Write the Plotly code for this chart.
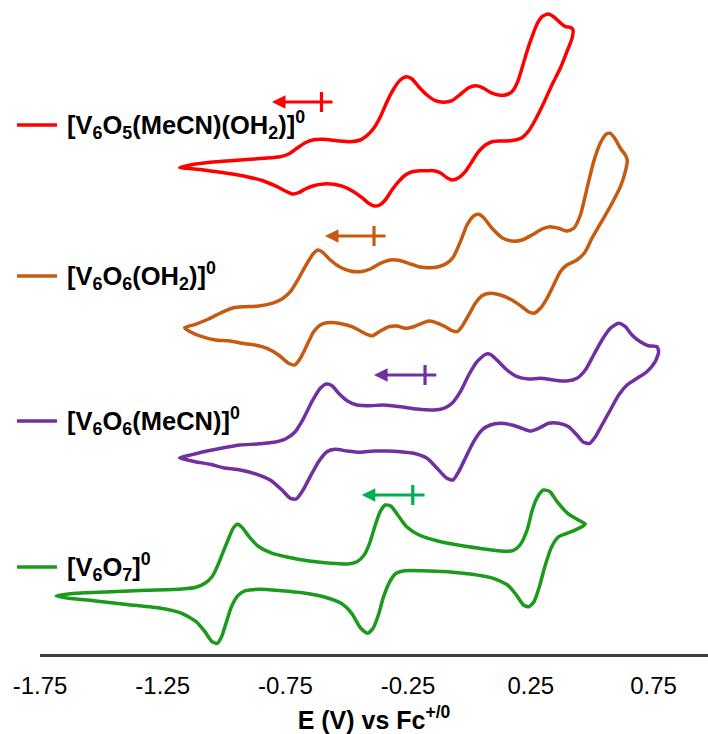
import plotly.graph_objects as go

# Potential axis ticks (V vs Fc+/0)
tick_values = [-1.75, -1.25, -0.75, -0.25, 0.25, 0.75]
tick_labels = ["-1.75", "-1.25", "-0.75", "-0.25", "0.25", "0.75"]

# Cyclic voltammograms: potential E (V) and current (a.u., stacked with offsets)
e_v6o5_mecn_oh2 = [-1.181, -1.138, -1.056, -0.947, -0.839, -0.771, -0.737, -0.703, -0.669, -0.635,
                   -0.594, -0.540, -0.486, -0.445, -0.418, -0.390, -0.363, -0.336, -0.309, -0.282,
                   -0.257, -0.234, -0.207, -0.173, -0.139, -0.105, -0.071, -0.037, -0.003, 0.024,
                   0.051, 0.085, 0.119, 0.146, 0.173, 0.194, 0.214, 0.234, 0.255, 0.275,
                   0.296, 0.320, 0.343, 0.368, 0.391, 0.411, 0.422, 0.418, 0.397, 0.370,
                   0.336, 0.302, 0.268, 0.241, 0.214, 0.187, 0.153, 0.119, 0.092, 0.065,
                   0.037, 0.010, -0.017, -0.044, -0.071, -0.092, -0.119, -0.146, -0.173, -0.200,
                   -0.234, -0.261, -0.289, -0.316, -0.343, -0.366, -0.388, -0.411, -0.438, -0.472,
                   -0.513, -0.553, -0.594, -0.635, -0.669, -0.696, -0.719, -0.744, -0.784, -0.839,
                   -0.907, -0.988, -1.083, -1.151, -1.181]
i_v6o5_mecn_oh2 = [486.3, 489, 491.7, 493.7, 495.7, 497.3, 500, 505.7, 511.3, 514.3,
                   514.7, 513.3, 512.3, 514, 518.3, 525.7, 537.3, 552.3, 565, 574,
                   577.3, 575, 567.3, 559, 553.3, 551.7, 553.3, 559.7, 566.3, 568.3,
                   566.7, 561.7, 559, 559, 562.3, 570.7, 585.7, 602.3, 617.3, 629.7,
                   637.3, 640, 637.3, 631.7, 627.3, 626.7, 624, 615.7, 602.3, 585.7,
                   569, 550.7, 534, 523, 516.3, 514, 513, 513, 512.3, 509,
                   502.3, 492.3, 482.3, 476.3, 474, 476.3, 481.3, 483.3, 483.3, 483.3,
                   482.3, 479, 472.3, 464, 454, 449, 448, 450.7, 456.3, 462.3,
                   467.3, 469.7, 470, 468.3, 465, 461.3, 460, 462.3, 467.3, 473,
                   477.3, 480.7, 484, 485.7, 486.3]

e_v6o6_oh2 = [-1.161, -1.117, -1.063, -1.009, -0.961, -0.913, -0.859, -0.805, -0.764, -0.730,
              -0.696, -0.662, -0.635, -0.617, -0.598, -0.567, -0.526, -0.486, -0.445, -0.404,
              -0.363, -0.323, -0.289, -0.248, -0.207, -0.166, -0.126, -0.092, -0.065, -0.037,
              -0.010, 0.017, 0.037, 0.058, 0.092, 0.133, 0.173, 0.214, 0.255, 0.296,
              0.329, 0.363, 0.397, 0.425, 0.452, 0.479, 0.506, 0.533, 0.556, 0.574,
              0.592, 0.615, 0.635, 0.643, 0.635, 0.615, 0.588, 0.554, 0.526, 0.499,
              0.472, 0.438, 0.397, 0.370, 0.343, 0.316, 0.289, 0.262, 0.241, 0.214,
              0.173, 0.126, 0.085, 0.051, 0.024, -0.003, -0.031, -0.051, -0.071, -0.098,
              -0.139, -0.166, -0.194, -0.228, -0.262, -0.295, -0.329, -0.363, -0.395, -0.418,
              -0.445, -0.479, -0.513, -0.547, -0.581, -0.608, -0.635, -0.662, -0.689, -0.712,
              -0.737, -0.778, -0.825, -0.873, -0.927, -0.975, -1.036, -1.090, -1.138, -1.161]
i_v6o6_oh2 = [326.3, 329.7, 335, 341.7, 346.3, 347.3, 348, 350.7, 355, 362.3,
              375.7, 390.7, 400.7, 404, 401.7, 394, 386.7, 383, 382.3, 385,
              390.7, 394, 393.7, 390.7, 387.3, 386.3, 387.3, 390.7, 397.3, 412.3,
              429, 438, 439.7, 436.3, 425.7, 416.3, 413, 414, 419, 425,
              427.3, 425.7, 423, 425.7, 439, 465.7, 492.3, 510.7, 519.7, 520.7,
              515.7, 505.7, 499, 494, 482.3, 467.3, 454, 439, 427.3, 415.7,
              402.3, 394, 389, 382.3, 369, 355.7, 345.7, 340.7, 342.3, 347.3,
              354, 359, 360.7, 358.3, 350.7, 339, 327.3, 322.3, 323.3, 327.3,
              331.7, 333, 330.7, 327.3, 325.7, 328, 327.3, 323, 318.3, 319.7,
              323, 327.3, 329.7, 331.3, 331.3, 329, 322.3, 309, 295.7, 289,
              290.7, 299, 305.7, 309, 310.7, 313, 314, 317.3, 322.3, 326.3]

e_v6o6_mecn = [-1.181, -1.137, -1.070, -1.002, -0.934, -0.866, -0.798, -0.750, -0.710, -0.676,
               -0.642, -0.608, -0.583, -0.560, -0.533, -0.499, -0.458, -0.404, -0.350, -0.282,
               -0.214, -0.146, -0.105, -0.071, -0.037, -0.003, 0.031, 0.065, 0.085, 0.112,
               0.153, 0.194, 0.241, 0.289, 0.343, 0.397, 0.438, 0.472, 0.506, 0.540,
               0.574, 0.608, 0.635, 0.662, 0.696, 0.730, 0.764, 0.771, 0.757, 0.723,
               0.683, 0.642, 0.608, 0.574, 0.540, 0.513, 0.490, 0.465, 0.438, 0.404,
               0.363, 0.323, 0.282, 0.248, 0.214, 0.173, 0.126, 0.085, 0.051, 0.017,
               -0.017, -0.044, -0.067, -0.092, -0.132, -0.173, -0.227, -0.282, -0.336, -0.390,
               -0.445, -0.499, -0.547, -0.581, -0.615, -0.649, -0.678, -0.706, -0.730, -0.764,
               -0.812, -0.866, -0.934, -1.002, -1.056, -1.117, -1.165, -1.181]
i_v6o6_mecn = [196.3, 199, 203, 206.3, 209, 210, 211.7, 215, 222.3, 235.7,
               252.3, 265.7, 270, 268.3, 260.7, 253.3, 249, 248.3, 249, 247.3,
               245, 244, 245.7, 250.7, 262.3, 279, 292.3, 299.7, 299.7, 294,
               284, 277.3, 275, 275.7, 274, 273, 275.7, 284, 299, 314,
               325.7, 330.7, 327.3, 319, 312.3, 308.3, 307.3, 302.3, 292.3, 282.3,
               275.7, 269, 259, 244, 229, 217.3, 210.7, 211.7, 219, 227.3,
               230.7, 230.7, 225.7, 223, 225.7, 229, 230.7, 229, 224, 212.3,
               195.7, 182.3, 174, 175.7, 185.7, 195.7, 200.7, 202.3, 203, 203,
               201.7, 203, 204.7, 202.3, 192.3, 177.3, 164, 155, 155.7, 164,
               174, 179.7, 184, 186.3, 189.7, 192.3, 195, 196.3]

e_v6o7 = [-1.684, -1.605, -1.460, -1.316, -1.172, -1.114, -1.078, -1.049, -1.028, -1.006,
          -0.984, -0.963, -0.945, -0.927, -0.898, -0.862, -0.811, -0.739, -0.653, -0.566,
          -0.494, -0.458, -0.429, -0.407, -0.386, -0.364, -0.343, -0.321, -0.292, -0.256,
          -0.205, -0.133, -0.047, 0.040, 0.126, 0.177, 0.206, 0.235, 0.256, 0.278,
          0.302, 0.328, 0.357, 0.400, 0.444, 0.472, 0.458, 0.415, 0.364, 0.335,
          0.307, 0.285, 0.263, 0.242, 0.220, 0.191, 0.155, 0.097, 0.011, -0.090,
          -0.191, -0.263, -0.299, -0.321, -0.350, -0.371, -0.393, -0.415, -0.443, -0.480,
          -0.523, -0.595, -0.681, -0.768, -0.855, -0.912, -0.941, -0.970, -0.992, -1.010,
          -1.028, -1.049, -1.078, -1.114, -1.172, -1.258, -1.388, -1.532, -1.633, -1.684]
i_v6o7 = [58, 60.7, 62.3, 63.7, 65, 66.7, 70.7, 77.3, 87.3, 100.7,
          114, 125.7, 129.7, 126.7, 117.3, 108, 101.3, 96.7, 93, 90.7,
          90, 92.3, 99, 110.7, 127.3, 142.3, 149, 148, 139, 127.3,
          119, 113.3, 109, 105.7, 103, 103.3, 109, 124, 144, 157.3,
          164, 162.3, 152.3, 140.7, 134, 130, 127.3, 122.3, 117.3, 107.3,
          87.3, 67.3, 52.3, 47.3, 49, 59, 69, 75.7, 79.7, 82.3,
          83.3, 83.3, 80.7, 74, 57.3, 39, 25.7, 20.7, 25.7, 40.7,
          50.7, 57.3, 61.3, 63.3, 64.7, 63.3, 59, 47.3, 30.7, 17.3,
          10.7, 12.3, 22.3, 32.3, 40.7, 45.7, 49.3, 53.3, 55.7, 58]

compound_labels = [
    "<b>[V<sub>6</sub>O<sub>5</sub>(MeCN)(OH<sub>2</sub>)]<sup>0</sup></b>",
    "<b>[V<sub>6</sub>O<sub>6</sub>(OH<sub>2</sub>)]<sup>0</sup></b>",
    "<b>[V<sub>6</sub>O<sub>6</sub>(MeCN)]<sup>0</sup></b>",
    "<b>[V<sub>6</sub>O<sub>7</sub>]<sup>0</sup></b>",
]
curve_colors = ["#ff0000", "#c55a11", "#7030a0", "#1c9a1c"]
arrow_colors = ["#ff0000", "#c55a11", "#7030a0", "#00b050"]

# Scan-direction markers: start potential (cross), arrow tail/tip potentials, current level
scan_start_E = [-0.603, -0.389, -0.181, -0.231]
scan_tail_E = [-0.552, -0.336, -0.129, -0.177]
scan_tip_E = [-0.805, -0.589, -0.389, -0.439]
scan_level = [552, 418, 279, 159]
# Current level at which each legend entry sits
legend_level = [529, 378, 233, 87]

curves = [
    (e_v6o5_mecn_oh2, i_v6o5_mecn_oh2),
    (e_v6o6_oh2, i_v6o6_oh2),
    (e_v6o6_mecn, i_v6o6_mecn),
    (e_v6o7, i_v6o7),
]

FONT = "Arial, 'Liberation Sans', sans-serif"

fig = go.Figure()
for (e, i), color in zip(curves, curve_colors):
    fig.add_trace(go.Scatter(
        x=e, y=i, mode="lines",
        line=dict(color=color, width=3.5, shape="spline", smoothing=0.6),
        showlegend=False, hoverinfo="skip",
    ))

shapes = []
annotations = []
for k in range(4):
    # scan direction arrow
    annotations.append(dict(
        x=scan_tip_E[k], y=scan_level[k], ax=scan_tail_E[k], ay=scan_level[k],
        xref="x", yref="y", axref="x", ayref="y", text="",
        showarrow=True, arrowhead=2, arrowsize=0.85, arrowwidth=3.2,
        arrowcolor=arrow_colors[k],
    ))
    shapes.append(dict(
        type="line", xref="x", yref="y",
        x0=scan_start_E[k], x1=scan_start_E[k],
        y0=scan_level[k] - 10, y1=scan_level[k] + 10,
        line=dict(color=arrow_colors[k], width=3.2),
    ))
    # legend entry
    shapes.append(dict(
        type="line", xref="paper", yref="y",
        x0=-0.0344, x1=0.0254, y0=legend_level[k], y1=legend_level[k],
        line=dict(color=curve_colors[k], width=3.5),
    ))
    annotations.append(dict(
        x=0.0374, y=legend_level[k], xref="paper", yref="y",
        xanchor="left", yanchor="middle", showarrow=False,
        text=compound_labels[k],
        font=dict(family=FONT, size=25.5, color="#000000"),
    ))

fig.update_layout(
    width=708, height=734,
    margin=dict(l=40, r=0, t=0, b=80),
    paper_bgcolor="white", plot_bgcolor="white",
    shapes=shapes, annotations=annotations,
    showlegend=False,
    xaxis=dict(
        range=[-1.75, 0.972], showgrid=False, zeroline=False,
        showline=True, linecolor="#404040", linewidth=2.5,
        ticks="", tickvals=tick_values, ticktext=tick_labels,
        ticklabelstandoff=8,
        tickfont=dict(family=FONT, size=24, color="#000000"),
        title=dict(text="<b>E (V) vs Fc<sup>+/0</sup></b>",
                   font=dict(family=FONT, size=25, color="#000000"),
                   standoff=18),
    ),
    yaxis=dict(range=[0, 654], visible=False),
)

fig.write_html("out.html")
